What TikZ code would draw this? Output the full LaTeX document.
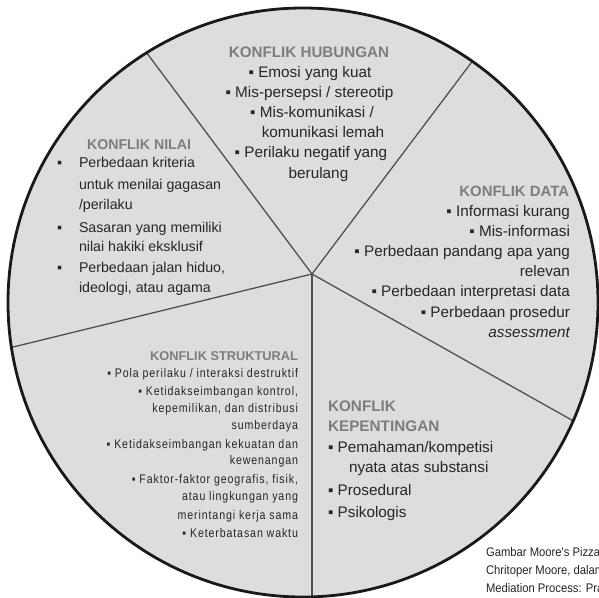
\documentclass[tikz,border=0pt]{standalone}
\usepackage{fontspec}
\setmainfont{Liberation Sans}
\newfontfamily\capfont[FakeStretch=0.9]{Liberation Sans}
\newfontfamily\strukfont[FakeStretch=0.85,LetterSpace=7]{Liberation Sans}
\definecolor{piefill}{RGB}{221,221,223}
\definecolor{rimc}{RGB}{25,25,25}
\definecolor{spokec}{RGB}{80,80,80}
\definecolor{ttlgray}{RGB}{125,125,125}
\definecolor{bodyc}{RGB}{38,38,38}
\tikzset{
  bd/.style={inner sep=0pt, outer sep=0pt, text=bodyc},
  ttl/.style={inner sep=0pt, outer sep=0pt, text=ttlgray},
  hubtxt/.style={bd, font=\fontsize{15.3}{18}\selectfont, anchor=base},
  hubttl/.style={ttl, font=\fontsize{15.2}{18}\selectfont\bfseries, anchor=base},
  niltxt/.style={bd, font=\fontsize{14.2}{17}\selectfont, anchor=base west},
  nilttl/.style={ttl, font=\fontsize{14.2}{17}\selectfont\bfseries, anchor=base west},
  dattxt/.style={bd, font=\fontsize{15.3}{18}\selectfont, anchor=base east},
  datttl/.style={ttl, font=\fontsize{14.9}{18}\selectfont\bfseries, anchor=base east},
  strtxt/.style={bd, font=\strukfont\fontsize{12.5}{14}\selectfont, anchor=base east},
  strttl/.style={ttl, font=\fontsize{12.8}{15}\selectfont\bfseries, anchor=base east},
  keptxt/.style={bd, font=\fontsize{15.3}{18}\selectfont, anchor=base west},
  kepttl/.style={ttl, font=\fontsize{15.3}{18}\selectfont\bfseries, anchor=base west},
  captxt/.style={bd, font=\capfont\fontsize{12.5}{14}\selectfont, anchor=base west},
  spoke/.style={draw=spokec, line width=1.3pt},
}
\begin{document}
\begin{tikzpicture}[x=1pt,y=-1pt]
\useasboundingbox (0,0) rectangle (599,597);
\clip (0,0) rectangle (599,597);
\fill[white] (0,0) rectangle (599,597);
% pie
\coordinate (ctr) at (303,302.5);
\coordinate (hub) at (312,274);
\coordinate (e1) at (99,-11);
\coordinate (e2) at (520,-2);
\coordinate (e3) at (657,468);
\coordinate (e4) at (312,694);
\coordinate (e5) at (-77,369);
\fill[piefill] (ctr) ellipse [x radius=295, y radius=294.5];
\begin{scope}
  \clip (ctr) ellipse [x radius=295, y radius=294.5];
  \draw[spoke] (hub) -- (e1);
  \draw[spoke] (hub) -- (e2);
  \draw[spoke] (hub) -- (e3);
  \draw[spoke] (hub) -- (e4);
  \draw[spoke] (hub) -- (e5);
\end{scope}
\draw[rimc, line width=2.8pt] (ctr) ellipse [x radius=295, y radius=294.5];

% KONFLIK HUBUNGAN
\node[hubttl] (h0) at (309,57) {KONFLIK HUBUNGAN};
\node[hubtxt] (h1) at (310,77) {▪ Emosi yang kuat};
\node[hubtxt] (h2) at (309.5,97) {▪ Mis-persepsi / stereotip};
\node[hubtxt] (h3) at (312,117) {▪ Mis-komunikasi /};
\node[hubtxt] (h4) at (323,137) {komunikasi lemah};
\node[hubtxt] (h5) at (311,157) {▪ Perilaku negatif yang};
\node[hubtxt] (h6) at (318.5,178) {berulang};

% KONFLIK NILAI
\node[nilttl] (n0) at (87,149) {KONFLIK NILAI};
\node[niltxt] (nb1) at (57,167) {▪};
\node[niltxt] (n1) at (79,167) {Perbedaan kriteria};
\node[niltxt] (n2) at (79,189) {untuk menilai gagasan};
\node[niltxt] (n3) at (79,209) {/perilaku};
\node[niltxt] (nb2) at (57,232) {▪};
\node[niltxt] (n4) at (79,232) {Sasaran yang memiliki};
\node[niltxt] (n5) at (79,251) {nilai hakiki eksklusif};
\node[niltxt] (nb3) at (57,272) {▪};
\node[niltxt] (n6) at (79,272) {Perbedaan jalan hiduo,};
\node[niltxt] (n7) at (79,292) {ideologi, atau agama};

% KONFLIK DATA
\node[datttl] (d0) at (569,196) {KONFLIK DATA};
\node[dattxt] (d1) at (570,216) {▪ Informasi kurang};
\node[dattxt] (d2) at (570,236) {▪ Mis-informasi};
\node[dattxt] (d3) at (570,256) {▪ Perbedaan pandang apa yang};
\node[dattxt] (d4) at (570,276) {relevan};
\node[dattxt] (d5) at (570,296) {▪ Perbedaan interpretasi data};
\node[dattxt] (d6) at (570,317) {▪ Perbedaan prosedur};
\node[dattxt] (d7) at (570,337) {\itshape assessment};

% KONFLIK STRUKTURAL
\node[strttl] (s0) at (298,360) {KONFLIK STRUKTURAL};
\node[strtxt] (s1) at (298,377) {▪ Pola perilaku / interaksi destruktif};
\node[strtxt] (s2) at (298,395) {▪ Ketidakseimbangan kontrol,};
\node[strtxt] (s3) at (298,412) {kepemilikan, dan distribusi};
\node[strtxt] (s4) at (298,429) {sumberdaya};
\node[strtxt] (s5) at (298,448) {▪ Ketidakseimbangan kekuatan dan};
\node[strtxt] (s6) at (298,464) {kewenangan};
\node[strtxt] (s7) at (298,483) {▪ Faktor-faktor geografis, fisik,};
\node[strtxt] (s8) at (298,500) {atau lingkungan yang};
\node[strtxt] (s9) at (298,519) {merintangi kerja sama};
\node[strtxt] (s10) at (298,537) {▪ Keterbatasan waktu};

% KONFLIK KEPENTINGAN
\node[kepttl] (k0) at (328,411) {KONFLIK};
\node[kepttl] (k1) at (328,431) {KEPENTINGAN};
\node[keptxt] (k2) at (328,452) {▪ Pemahaman/kompetisi};
\node[keptxt] (k3) at (349,472) {nyata atas substansi};
\node[keptxt] (k4) at (328,495) {▪ Prosedural};
\node[keptxt] (k5) at (328,517) {▪ Psikologis};

% caption
\node[captxt] (c1) at (486,556) {Gambar Moore's Pizza};
\node[captxt] (c2) at (486,574) {Chritoper Moore, dalam};
\node[captxt] (c3) at (486,592) {Mediation Process: Pra};
\end{tikzpicture}
\end{document}
